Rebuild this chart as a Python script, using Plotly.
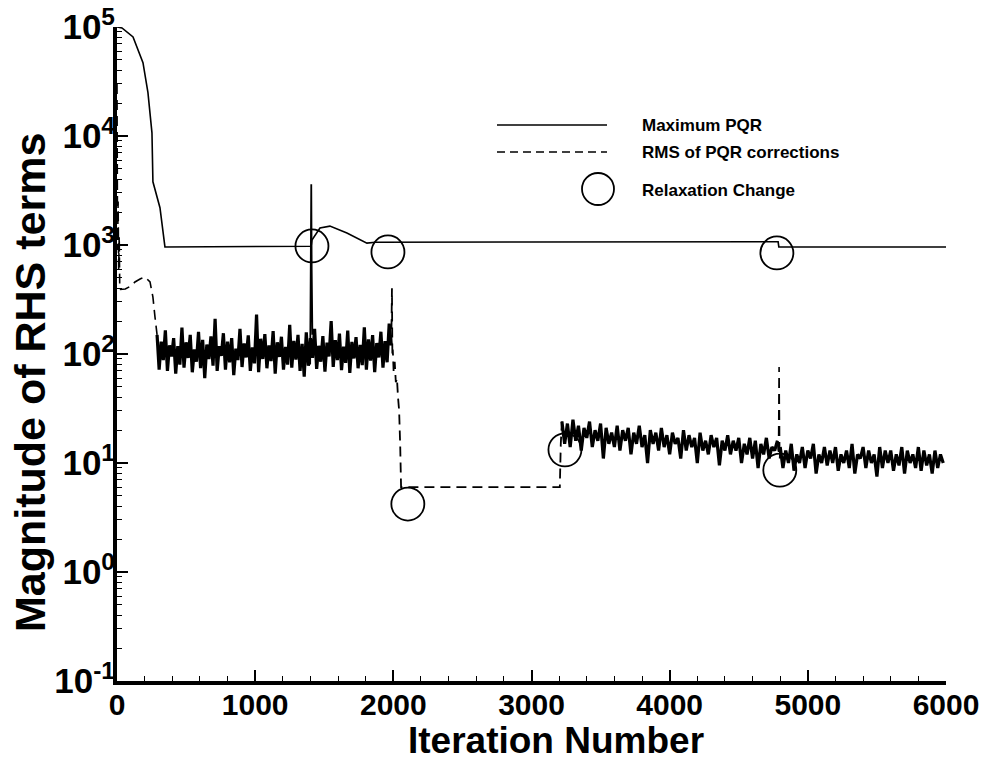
import plotly.graph_objects as go

# ---------------- data ----------------
# Maximum PQR (solid line)
pqr_x = [0, 36, 116, 188, 224, 253, 260, 311, 347, 800, 1390, 1405, 1411, 1469, 1541, 1664, 1809, 1870, 3000, 4785, 4790, 6000]
pqr_y = [1.0e5, 9.8e4, 8.1e4, 4.7e4, 2.5e4, 1.07e4, 3.8e3, 2.2e3, 960, 965, 975, 975, 1110, 1430, 1490, 1290, 1040, 1060, 1065, 1070, 960, 960]

# RMS of PQR corrections (dashed line), split into smooth and noisy parts
rms_head_x = [0, 4, 8, 12, 16, 20, 60, 100, 130, 170, 203, 239, 260, 275, 290]
rms_head_y = [3.0e4, 900, 2500, 600, 1200, 390, 395, 420, 458, 490, 508, 458, 333, 218, 150]

rms_band1_x = list(range(290, 1996, 15))
rms_band1_y = [150, 72, 130, 88, 165, 70, 120, 95, 140, 66,
               118, 80, 175, 75, 128, 92, 150, 68, 110, 85,
               160, 74, 135, 60, 122, 90, 145, 78, 210, 70,
               118, 96, 155, 72, 130, 84, 140, 64, 112, 88,
               170, 76, 125, 93, 148, 70, 115, 82, 230, 68,
               138, 90, 152, 74, 120, 86, 162, 66, 128, 94,
               144, 72, 116, 80, 185, 75, 132, 89, 150, 70,
               124, 62, 158, 78, 140, 92, 170, 73, 119, 85,
               146, 69, 127, 95, 200, 76, 134, 88, 154, 71,
               117, 83, 164, 67, 129, 91, 143, 74, 121, 79,
               176, 72, 136, 87, 149, 68, 126, 93, 160, 75,
               131, 84, 190, 120]

# sharp jump of the corrections at the first relaxation change
rms_jump_x = [1398, 1403, 1406, 1409, 1414]
rms_jump_y = [80, 3600, 3600, 600, 150]

rms_drop_x = [1985, 1990, 1993, 1996, 2002, 2010, 2018, 2026, 2034, 2042, 2050, 2056, 2600, 3205, 3212, 3220]
rms_drop_y = [120, 400, 95, 110, 70, 85, 55, 60, 40, 30, 14, 6.0, 6.0, 6.0, 15, 24]

rms_band2_x = list(range(3220, 4781, 20))
rms_band2_y = [24, 15, 23, 14, 25, 16, 22, 13, 21, 17, 24, 14, 20, 16, 23, 11, 21, 15, 19, 14,
               22, 13, 20, 16, 21, 12, 19, 15, 22, 14, 18, 10, 20, 15, 19, 13, 21, 14, 18, 12,
               19, 15, 17, 11, 20, 13, 18, 14, 17, 10, 19, 13, 16, 12, 18, 14, 17, 9.5, 16, 13,
               18, 12, 16, 13, 17, 10, 15, 12, 17, 11, 16, 9, 15, 12, 17, 11, 14, 13, 16]

rms_spike_x = [4780, 4788, 4792, 4796, 4800]
rms_spike_y = [16, 12, 76, 11, 14]

rms_band3_x = list(range(4800, 5991, 20))
rms_band3_y = [14, 9, 13, 10, 15, 8.5, 12, 10, 14, 9, 13, 11, 15, 8, 12, 10, 14, 9.5, 13, 10,
               14, 8.5, 12, 10, 13, 9, 15, 8, 12, 11, 14, 9, 13, 10, 12, 7.5, 14, 9, 13, 10,
               13, 8.5, 12, 9.5, 14, 8, 13, 10, 12, 9, 14, 8.5, 13, 9.5, 12, 8, 13, 9, 12, 10]

# Relaxation changes (open circles)
relax_x = [1411, 1961, 2105, 3242, 4776, 4797]
relax_y = [980, 863, 4.2, 13.2, 845, 8.6]

y_tickvals = [0.1, 1, 10, 100, 1e3, 1e4, 1e5]
y_ticktext = ["10<sup>-1</sup>", "10<sup>0</sup>", "10<sup>1</sup>", "10<sup>2</sup>",
              "10<sup>3</sup>", "10<sup>4</sup>", "10<sup>5</sup>"]
x_tickvals = [0, 1000, 2000, 3000, 4000, 5000, 6000]
x_ticktext = ["0", "1000", "2000", "3000", "4000", "5000", "6000"]

legend_labels = ["Maximum PQR", "RMS of PQR corrections", "Relaxation Change"]
x_title = "Iteration Number"
y_title = "Magnitude of RHS terms"

# ---------------- figure ----------------
FONT = "Liberation Sans, Arial, Helvetica, sans-serif"
W, H = 987, 762
L, R, T, B = 117, 41, 27, 81
PW, PH = W - L - R, H - T - B


def px2paper(px, py):
    return (px - L) / PW, (H - B - py) / PH


fig = go.Figure()

dash_style = "10px,6px"
segments = [
    (rms_head_x, rms_head_y, dash_style, 1.6),
    (rms_band1_x, rms_band1_y, "solid", 3.2),
    (rms_jump_x, rms_jump_y, "solid", 1.8),
    (rms_drop_x, rms_drop_y, dash_style, 1.8),
    (rms_band2_x, rms_band2_y, "solid", 3.2),
    (rms_spike_x, rms_spike_y, dash_style, 1.6),
    (rms_band3_x, rms_band3_y, "solid", 3.2),
]
for sx, sy, ds, lw in segments:
    fig.add_trace(go.Scatter(x=sx, y=sy, mode="lines",
                             line=dict(color="black", width=lw, dash=ds),
                             showlegend=False, hoverinfo="skip"))

fig.add_trace(go.Scatter(x=pqr_x, y=pqr_y, mode="lines",
                         line=dict(color="black", width=1.6),
                         showlegend=False, name=legend_labels[0]))

fig.add_trace(go.Scatter(x=relax_x, y=relax_y, mode="markers",
                         marker=dict(symbol="circle-open", size=33, color="black",
                                     line=dict(color="black", width=1.8)),
                         showlegend=False, name=legend_labels[2]))

# custom legend
shapes = []
lx0, ly1 = px2paper(497, 125)
lx1, _ = px2paper(607, 125)
_, ly2 = px2paper(497, 152)
shapes.append(dict(type="line", xref="paper", yref="paper", x0=lx0, x1=lx1, y0=ly1, y1=ly1,
                   line=dict(color="black", width=1.6)))
shapes.append(dict(type="line", xref="paper", yref="paper", x0=lx0, x1=lx1, y0=ly2, y1=ly2,
                   line=dict(color="black", width=1.6, dash="8px,5px")))
cx, cy = px2paper(598, 189)
shapes.append(dict(type="circle", xref="paper", yref="paper", xsizemode="pixel", ysizemode="pixel",
                   xanchor=cx, yanchor=cy, x0=-16, x1=16, y0=-16, y1=16,
                   line=dict(color="black", width=1.8)))

annotations = []
for lab, py in zip(legend_labels, [125, 152, 191]):
    ax, ay = px2paper(640, py)
    annotations.append(dict(text=lab, x=ax, y=ay, xref="paper", yref="paper",
                            xanchor="left", yanchor="middle", showarrow=False,
                            font=dict(family=FONT, size=17, color="black", weight="bold")))

tx, ty = px2paper(556, 740)
annotations.append(dict(text=x_title, x=tx, y=ty, xref="paper", yref="paper",
                        xanchor="center", yanchor="middle", showarrow=False,
                        font=dict(family=FONT, size=37, color="black", weight="bold")))
yx, yy = px2paper(30, 383)
annotations.append(dict(text=y_title, x=yx, y=yy, xref="paper", yref="paper",
                        xanchor="center", yanchor="middle", showarrow=False, textangle=-90,
                        font=dict(family=FONT, size=43, color="black", weight="bold")))

fig.update_layout(
    width=W, height=H,
    margin=dict(l=L, r=R, t=T, b=B, pad=0, autoexpand=False),
    paper_bgcolor="white", plot_bgcolor="white",
    shapes=shapes, annotations=annotations,
    showlegend=False,
    font=dict(family=FONT, color="black"),
)

fig.update_xaxes(
    range=[0, 6000], tickvals=x_tickvals, ticktext=x_ticktext,
    ticks="inside", ticklen=11, tickwidth=1.5, tickcolor="black",
    showline=True, linecolor="black", linewidth=3.5, showgrid=False, zeroline=False,
    automargin=False,
    tickfont=dict(family=FONT, size=30, color="black", weight="bold"),
    ticklabelstandoff=-6,
    minor=dict(dtick=200, ticks="inside", ticklen=5, tickwidth=1.2, tickcolor="black", showgrid=False),
)
fig.update_yaxes(
    type="log", range=[-1, 5], tickvals=y_tickvals, ticktext=y_ticktext,
    ticks="inside", ticklen=11, tickwidth=1.5, tickcolor="black",
    showline=True, linecolor="black", linewidth=4, showgrid=False, zeroline=False,
    automargin=False,
    tickfont=dict(family=FONT, size=35, color="black", weight="bold"),
    ticklabelstandoff=-9,
    minor=dict(dtick="D1", ticks="inside", ticklen=5, tickwidth=1.2, tickcolor="black", showgrid=False),
)

fig.write_html("out.html", config={"displayModeBar": False},
               post_script="document.body.style.margin='0px';document.body.style.padding='0px';")
